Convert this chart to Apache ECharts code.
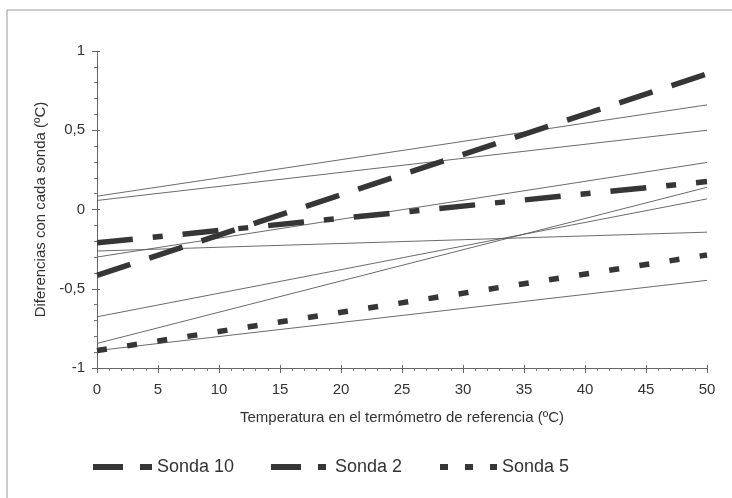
<!DOCTYPE html>
<html>
<head>
<meta charset="utf-8">
<script src="https://cdn.jsdelivr.net/npm/echarts@6/dist/echarts.min.js"></script>
<style>
html,body{margin:0;padding:0;background:#fff;}
#c{width:732px;height:498px;}
</style>
</head>
<body>
<div id="c"></div>
<script>
// ---- data ----
const xValues = [0, 50];
const sonda10 = [-0.415, 0.855];
const sonda2 = [-0.21, 0.176];
const sonda5 = [-0.89, -0.287];
const thin1 = [0.084, 0.66];
const thin2 = [0.057, 0.50];
const thin3 = [-0.30, 0.297];
const thin4 = [-0.262, -0.143];
const thin5 = [-0.677, 0.067];
const thin6 = [-0.845, 0.14];
const thin7 = [-0.89, -0.447];
const seriesNames = ['Sonda 10', 'Sonda 2', 'Sonda 5'];
const xTickLabels = ['0','5','10','15','20','25','30','35','40','45','50'];
const yTickLabels = ['-1','-0,5','0','0,5','1'];
const xTitle = 'Temperatura en el termómetro de referencia (ºC)';
const yTitle = 'Diferencias con cada sonda (ºC)';

const FONT = 'Liberation Sans, Arial, sans-serif';
const pts = arr => xValues.map((x, i) => [x, arr[i]]);

const thick = '#363636';
const thinColor = '#5a5a5a';

function thinSeries(arr) {
  return {type:'line', data: pts(arr), symbol:'none', silent:true, z:2,
    itemStyle:{color: thinColor},
    lineStyle:{color: thinColor, width: 0.9}};
}

const chart = echarts.init(document.getElementById('c'), null, {renderer:'canvas'});

const baseX = {
  type:'value', min:0, max:50, interval:5, gridIndex:0, position:'bottom',
  splitLine:{show:false},
  axisLine:{show:true, onZero:false, lineStyle:{color:'#666', width:1}},
  axisTick:{show:true, length:5, lineStyle:{color:'#666'}},
  minorTick:{show:true, splitNumber:5, length:3, lineStyle:{color:'#777'}},
  axisLabel:{margin:14, color:'#333', fontSize:15, fontFamily:FONT,
    formatter: v => xTickLabels[Math.round(v/5)]},
  name: xTitle, nameLocation:'middle', nameGap:42,
  nameTextStyle:{color:'#333', fontSize:15, fontFamily:FONT}
};
const baseY = {
  type:'value', min:-1, max:1, interval:0.5, gridIndex:0, position:'left',
  splitLine:{show:false},
  axisLine:{show:true, onZero:false, lineStyle:{color:'#666', width:1}},
  axisTick:{show:true, length:5, lineStyle:{color:'#666'}},
  minorTick:{show:true, splitNumber:5, length:3, lineStyle:{color:'#777'}},
  axisLabel:{margin:12, color:'#333', fontSize:15, fontFamily:FONT,
    formatter: v => yTickLabels[Math.round((v+1)/0.5)]},
  name: yTitle, nameLocation:'middle', nameGap:41,
  nameTextStyle:{color:'#333', fontSize:15, fontFamily:FONT}
};

function legendOf(name, left, width, dash) {
  return {
    left: left, top: 458, orient:'horizontal', padding:0,
    itemWidth: width, itemHeight: 12, selectedMode:false,
    itemStyle:{opacity:0, borderWidth:0},
    data:[{name:name,
      lineStyle:{type: dash, width:6, color: thick, cap:'butt', opacity:1}}],
    textStyle:{color:'#333', fontSize:18, fontFamily:FONT}
  };
}

const option = {
  animation:false,
  backgroundColor:'#fff',
  grid:{left:97, right:25, top:51, bottom:130},
  xAxis:[baseX, Object.assign({}, baseX, {
      axisLine:{show:false, onZero:false}, axisLabel:{show:false}, name:'',
      axisTick:{show:true, inside:true, length:3, lineStyle:{color:'#666'}},
      minorTick:{show:false}})],
  yAxis:[baseY, Object.assign({}, baseY, {
      axisLine:{show:false, onZero:false}, axisLabel:{show:false}, name:'',
      axisTick:{show:true, inside:true, length:3, lineStyle:{color:'#666'}},
      minorTick:{show:false}})],
  legend:[
    legendOf(seriesNames[0], 90, 59, [30,17,15,50]),
    legendOf(seriesNames[1], 268, 59, [30,17,8,100]),
    legendOf(seriesNames[2], 437, 57, [8,17])
  ],
  graphic:[{
    type:'polyline', silent:true, z:-1,
    shape:{points:[[7,510],[7,10],[740,10]]},
    style:{stroke:'#9a9a9a', lineWidth:1, fill:null}
  }],
  series:[
    thinSeries(thin1), thinSeries(thin2), thinSeries(thin3), thinSeries(thin4),
    thinSeries(thin5), thinSeries(thin6), thinSeries(thin7),
    {name:seriesNames[0], type:'line', data:pts(sonda10), symbol:'none', z:5,
      itemStyle:{color:thick},
      lineStyle:{color:thick, width:5.5, type:[35,20], cap:'butt'}},
    {name:seriesNames[1], type:'line', data:pts(sonda2), symbol:'none', z:5,
      itemStyle:{color:thick},
      lineStyle:{color:thick, width:5.5, type:[36,20,10,20], cap:'butt'}},
    {name:seriesNames[2], type:'line', data:pts(sonda5), symbol:'none', z:5,
      itemStyle:{color:thick},
      lineStyle:{color:thick, width:5.5, type:[10,20.5], cap:'butt'}}
  ]
};
chart.setOption(option);
</script>
</body>
</html>
